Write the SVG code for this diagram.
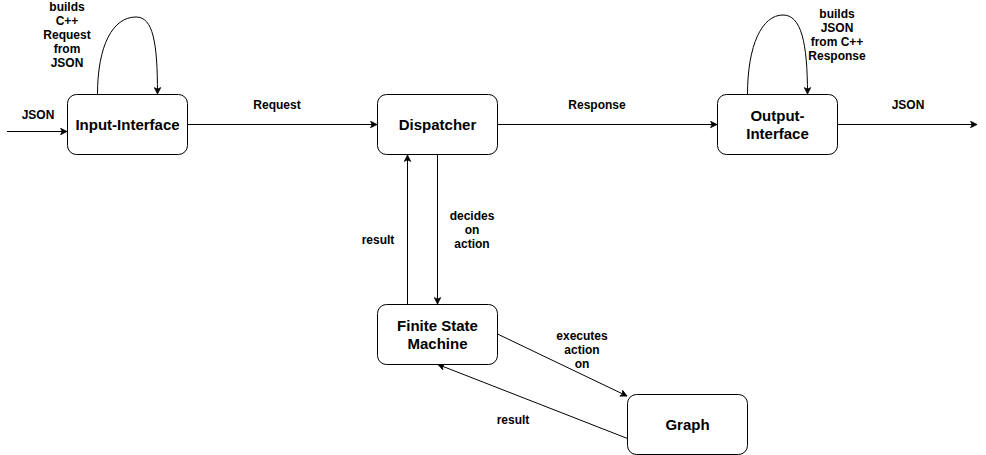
<svg xmlns="http://www.w3.org/2000/svg" width="986" height="455" viewBox="0 0 986 455">
<defs>
<marker id="arr" viewBox="0 0 10 10" refX="9" refY="5" markerWidth="8" markerHeight="8" markerUnits="userSpaceOnUse" orient="auto">
<path d="M1,1 L9,5 L1,9 L3,5 Z" fill="#000" stroke="#000" stroke-width="1"/>
</marker>
</defs>
<style>
.node rect{fill:#fff;stroke:#000;stroke-width:1}
.nl{font-family:"Liberation Sans",Arial,sans-serif;font-size:15px;font-weight:bold;text-anchor:middle;fill:#000}
.el{font-family:"Liberation Sans",Arial,sans-serif;font-size:12px;font-weight:bold;text-anchor:middle;fill:#000}
.edge{fill:none;stroke:#000;stroke-width:1;marker-end:url(#arr)}
</style>
<rect width="986" height="455" fill="#fff"/>
<g id="connectors">
<path class="edge" d="M7,131.5 L67,131.5"/>
<path class="edge" d="M97.5,94.5 C97.5,45 113,17 136,17 C153,17 157.5,42 157.5,94"/>
<path class="edge" d="M187.5,124.5 L377,124.5"/>
<path class="edge" d="M497.5,124.5 L717,124.5"/>
<path class="edge" d="M747.5,94.5 C747.5,45 762,15 783,15 C801,15 807.5,42 807.5,94"/>
<path class="edge" d="M837.5,124.5 L977,124.5"/>
<path class="edge" d="M437.5,154.5 L437.5,304"/>
<path class="edge" d="M407.5,304.5 L407.5,155"/>
<path class="edge" d="M497.5,334 L627,396"/>
<path class="edge" d="M627.5,438.5 L438,364.5"/>
<text class="el" x="67" y="11">builds</text>
<text class="el" x="67" y="25">C++</text>
<text class="el" x="67" y="39">Request</text>
<text class="el" x="67" y="53">from</text>
<text class="el" x="67" y="67">JSON</text>
<text class="el" x="837" y="18">builds</text>
<text class="el" x="837" y="32">JSON</text>
<text class="el" x="837" y="46">from C++</text>
<text class="el" x="837" y="60">Response</text>
<text class="el" x="38" y="119">JSON</text>
<text class="el" x="277" y="109">Request</text>
<text class="el" x="597" y="109">Response</text>
<text class="el" x="908" y="109">JSON</text>
<text class="el" x="378" y="244">result</text>
<text class="el" x="472" y="220">decides</text>
<text class="el" x="472" y="234">on</text>
<text class="el" x="472" y="248">action</text>
<text class="el" x="582" y="340">executes</text>
<text class="el" x="582" y="354">action</text>
<text class="el" x="582" y="368">on</text>
<text class="el" x="513" y="424">result</text>
</g>
<g id="input-interface" class="node">
<rect x="67.5" y="94.5" width="120" height="60" rx="9"/>
<text class="nl" x="127.5" y="130">Input-Interface</text>
</g>
<g id="dispatcher" class="node">
<rect x="377.5" y="94.5" width="120" height="60" rx="9"/>
<text class="nl" x="437.5" y="130">Dispatcher</text>
</g>
<g id="output-interface" class="node">
<rect x="717.5" y="94.5" width="120" height="60" rx="9"/>
<text class="nl" x="777.5" y="121">Output-</text>
<text class="nl" x="777.5" y="139">Interface</text>
</g>
<g id="fsm" class="node">
<rect x="377.5" y="304.5" width="120" height="60" rx="9"/>
<text class="nl" x="437.5" y="331">Finite State</text>
<text class="nl" x="437.5" y="349">Machine</text>
</g>
<g id="graph" class="node">
<rect x="627.5" y="394.5" width="120" height="60" rx="9"/>
<text class="nl" x="687.5" y="430">Graph</text>
</g>
</svg>
